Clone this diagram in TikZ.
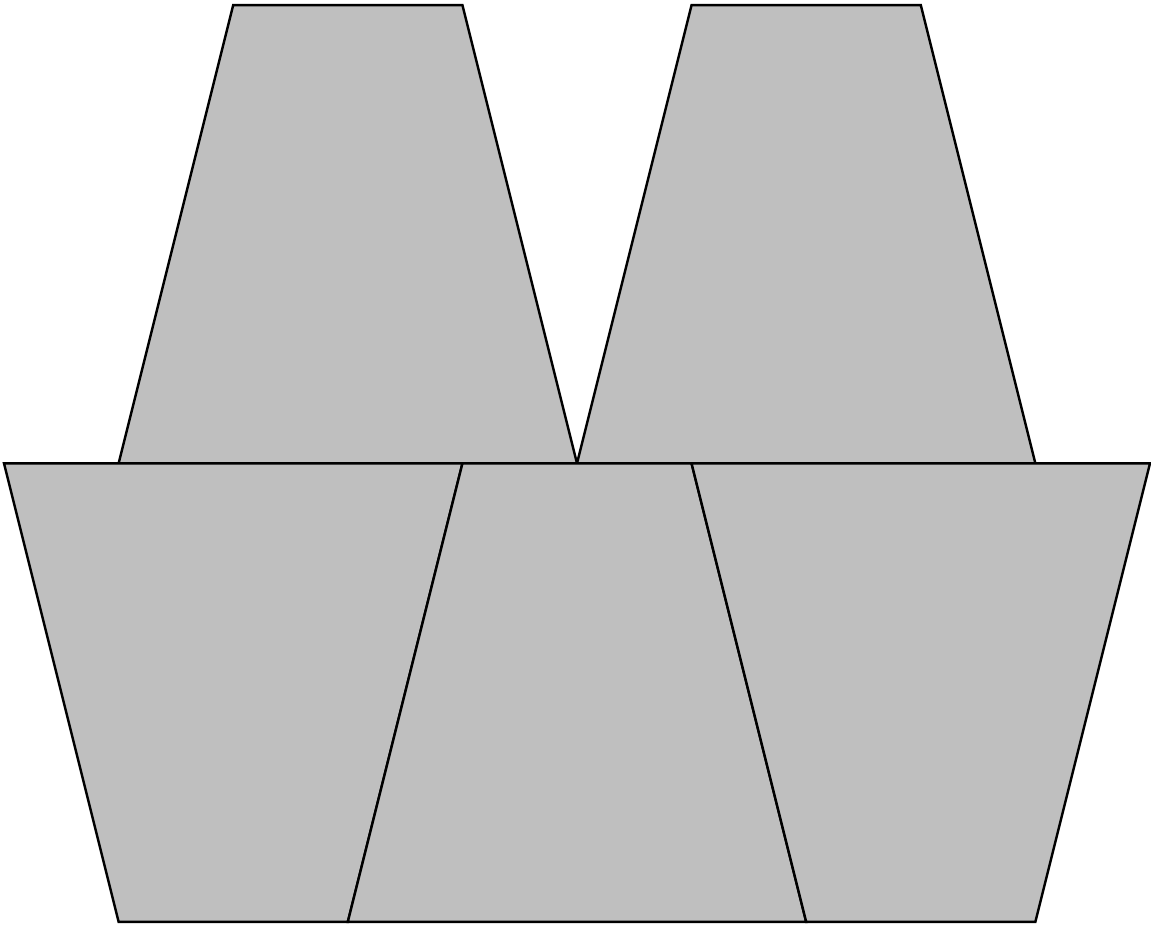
\documentclass[tikz,border=0pt]{standalone}
\begin{document}
\begin{tikzpicture}[x=1cm,y=1cm,
  piece/.style={fill=black!25, draw=black, line width=0.6pt, line join=miter}]
\useasboundingbox (-0.035,-0.044) rectangle (10.009,8.044);
% top row
\draw[piece] (1,4) -- (2,8) -- (4,8) -- (5,4) -- cycle;
\draw[piece] (5,4) -- (6,8) -- (8,8) -- (9,4) -- cycle;
% bottom row
\draw[piece] (0,4) -- (4,4) -- (3,0) -- (1,0) -- cycle;
\draw[piece] (4,4) -- (6,4) -- (7,0) -- (3,0) -- cycle;
\draw[piece] (6,4) -- (10,4) -- (9,0) -- (7,0) -- cycle;
\end{tikzpicture}
\end{document}
